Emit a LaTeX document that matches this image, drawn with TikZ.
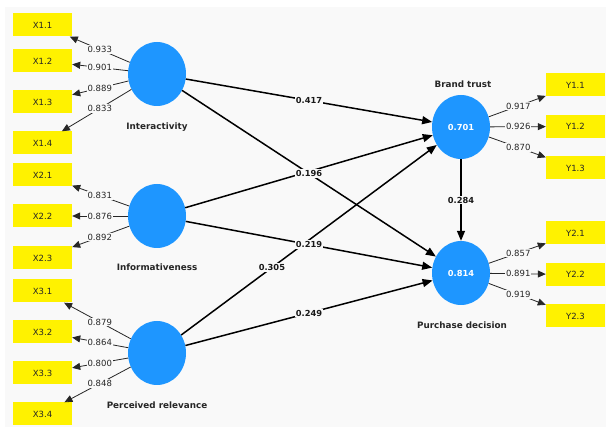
\documentclass[tikz,border=0pt]{standalone}
\usepackage{fontspec}
\setmainfont{DejaVu Sans}
\usetikzlibrary{shapes.geometric,arrows.meta,calc}
\definecolor{bgc}{HTML}{F9F9F9}
\definecolor{lvblue}{HTML}{1E96FF}
\begin{document}
\begin{tikzpicture}[x=1pt,y=-1pt,
 ind/.style={fill=yellow, minimum width=59pt, minimum height=23pt, inner sep=0pt, text=black!85, font=\fontsize{8.5}{10}\selectfont},
 lv/.style={ellipse, fill=lvblue, minimum width=58pt, minimum height=64pt, inner sep=0pt, text=white, font=\bfseries\fontsize{8.3}{10}\selectfont},
 lvname/.style={font=\bfseries\fontsize{8.8}{10}\selectfont, text=black!85},
 load/.style={draw=black!85, line width=0.8pt, -{Triangle[length=8pt,width=7pt]}},
 struct/.style={draw=black, line width=1.5pt, -{Triangle[length=10pt,width=8pt]}},
 lbl/.style={fill=bgc, inner sep=1pt, text=black!85, font=\fontsize{8.5}{10}\selectfont},
 slbl/.style={fill=bgc, inner sep=1pt, text=black!90, font=\bfseries\fontsize{8.3}{10}\selectfont}
]
\useasboundingbox (0,0) rectangle (606,427);
\fill[white] (0,0) rectangle (606,427);
\fill[bgc] (5,7) rectangle (606,427);

% latent variables
\node[lv] (int) at (157,74) {};
\node[lv] (inf) at (157,216) {};
\node[lv] (pr) at (157,353) {};
\node[lv] (bt) at (461,127) {0.701};
\node[lv] (pd) at (461,273) {0.814};

\node[lvname] (nint) at (157,127) {Interactivity};
\node[lvname] (ninf) at (157,267) {Informativeness};
\node[lvname] (npr) at (157,405) {Perceived relevance};
\node[lvname] (nbt) at (463,84) {Brand trust};
\node[lvname] (npd) at (462,325) {Purchase decision};

% indicators
\node[ind] (x11) at (42.5,25) {X1.1};
\node[ind] (x12) at (42.5,61) {X1.2};
\node[ind] (x13) at (42.5,102) {X1.3};
\node[ind] (x14) at (42.5,143) {X1.4};
\node[ind] (x21) at (42.5,175) {X2.1};
\node[ind] (x22) at (42.5,216) {X2.2};
\node[ind] (x23) at (42.5,258) {X2.3};
\node[ind] (x31) at (42.5,291) {X3.1};
\node[ind] (x32) at (42.5,332) {X3.2};
\node[ind] (x33) at (42.5,373) {X3.3};
\node[ind] (x34) at (42.5,414) {X3.4};
\node[ind] (y11) at (575.5,85) {Y1.1};
\node[ind] (y12) at (575.5,126.5) {Y1.2};
\node[ind] (y13) at (575.5,168) {Y1.3};
\node[ind] (y21) at (575.5,233) {Y2.1};
\node[ind] (y22) at (575.5,274.5) {Y2.2};
\node[ind] (y23) at (575.5,316) {Y2.3};

% loading lines
\foreach \a/\b in {int/x11,int/x12,int/x13,int/x14,inf/x21,inf/x22,inf/x23,pr/x31,pr/x32,pr/x33,pr/x34,bt/y11,bt/y12,bt/y13,pd/y21,pd/y22,pd/y23}
  \draw[load] (\a) -- (\b);

% structural paths
\draw[struct] (int) -- (bt);
\draw[struct] (int) -- (pd);
\draw[struct] (inf) -- (bt);
\draw[struct] (inf) -- (pd);
\draw[struct] (pr) -- (bt);
\draw[struct] (pr) -- (pd);
\draw[struct] (bt) -- (pd);

% loading labels
\node[lbl] (l11) at ($(int)!0.5!(x11)$) {0.933};
\node[lbl] (l12) at ($(int)!0.5!(x12)$) {0.901};
\node[lbl] (l13) at ($(int)!0.5!(x13)$) {0.889};
\node[lbl] (l14) at ($(int)!0.5!(x14)$) {0.833};
\node[lbl] (l21) at ($(inf)!0.5!(x21)$) {0.831};
\node[lbl] (l22) at ($(inf)!0.5!(x22)$) {0.876};
\node[lbl] (l23) at ($(inf)!0.5!(x23)$) {0.892};
\node[lbl] (l31) at ($(pr)!0.5!(x31)$) {0.879};
\node[lbl] (l32) at ($(pr)!0.5!(x32)$) {0.864};
\node[lbl] (l33) at ($(pr)!0.5!(x33)$) {0.800};
\node[lbl] (l34) at ($(pr)!0.5!(x34)$) {0.848};
\node[lbl] (m11) at ($(bt)!0.5!(y11)$) {0.917};
\node[lbl] (m12) at ($(bt)!0.5!(y12)$) {0.926};
\node[lbl] (m13) at ($(bt)!0.5!(y13)$) {0.870};
\node[lbl] (m21) at ($(pd)!0.5!(y21)$) {0.857};
\node[lbl] (m22) at ($(pd)!0.5!(y22)$) {0.891};
\node[lbl] (m23) at ($(pd)!0.5!(y23)$) {0.919};

% path labels
\node[slbl] (s1) at ($(int)!0.5!(bt)$) {0.417};
\node[slbl] (s2) at ($(int)!0.5!(pd)$) {0.196};
\node[slbl] (s3) at ($(inf)!0.5!(pd)$) {0.219};
\node[slbl] (s4) at ($(pr)!0.378!(bt)$) {0.305};
\node[slbl] (s5) at ($(pr)!0.5!(pd)$) {0.249};
\node[slbl] (s6) at ($(bt)!0.5!(pd)$) {0.284};
\end{tikzpicture}
\end{document}
